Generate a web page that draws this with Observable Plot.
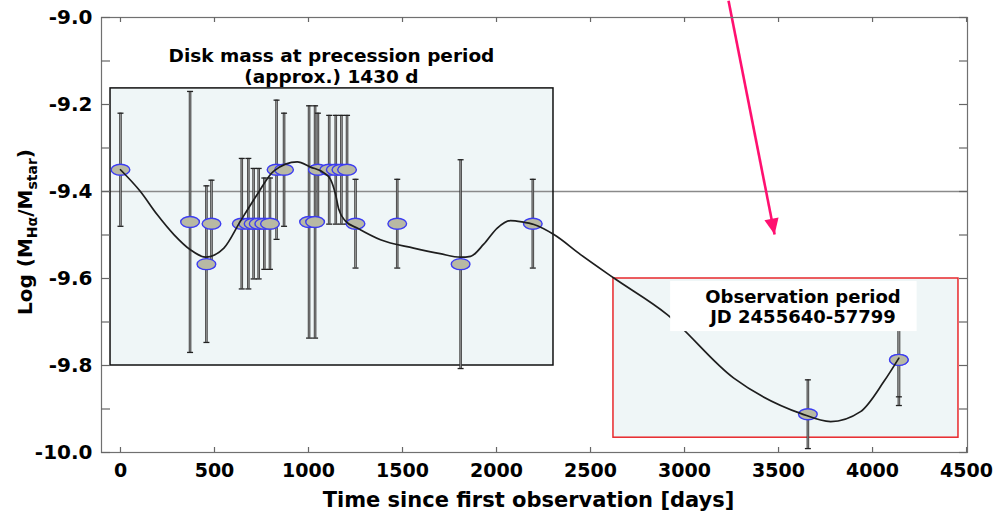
<!DOCTYPE html>
<html><head><meta charset="utf-8">
<script src="https://cdn.jsdelivr.net/npm/d3@7"></script>
<script src="https://cdn.jsdelivr.net/npm/@observablehq/plot@0.6"></script>
<style>body{margin:0;background:#fff;}</style>
</head><body><div id="chart"></div>
<script>
// ---- observations (days since first observation, log mass, error) ----
const obsDays = [0, 370, 457, 484, 645, 680, 708, 735, 765, 795, 830, 870, 1003, 1035, 1050, 1110, 1145, 1175, 1205, 1250, 1472, 1809, 2193, 3656, 4140, 4140];
const obsLog  = [-9.35, -9.47, -9.567, -9.474, -9.474, -9.474, -9.474, -9.474, -9.474, -9.474, -9.35, -9.35, -9.47, -9.47, -9.35, -9.35, -9.35, -9.35, -9.35, -9.474, -9.474, -9.567, -9.474, -9.912, -9.787, -9.787];
const obsErr  = [0.13, 0.30, 0.18, 0.10, 0.15, 0.15, 0.127, 0.127, 0.105, 0.105, 0.16, 0.13, 0.267, 0.267, 0.13, 0.125, 0.125, 0.125, 0.125, 0.102, 0.102, 0.24, 0.102, 0.079, 0.085, 0.105];

// ---- smooth fitted curve ----
const curveDays = [0, 106, 195, 284, 372, 452, 550, 638, 727, 815, 940, 1011, 1082, 1117, 1144, 1161, 1197, 1259, 1383, 1559, 1700, 1809, 1862, 1932, 2004, 2074, 2136, 2199, 2305, 2447, 2624, 2908, 3262, 3617, 3777, 3936, 4060, 4140];
const curveLog  = [-9.35, -9.40, -9.453, -9.499, -9.534, -9.551, -9.530, -9.468, -9.407, -9.353, -9.332, -9.344, -9.357, -9.372, -9.407, -9.441, -9.468, -9.484, -9.511, -9.530, -9.543, -9.551, -9.549, -9.521, -9.484, -9.467, -9.470, -9.476, -9.499, -9.545, -9.599, -9.683, -9.829, -9.910, -9.929, -9.906, -9.837, -9.783];

// ---- ticks ----
const xTicks = [0, 500, 1000, 1500, 2000, 2500, 3000, 3500, 4000, 4500];
const yLabelTicks = [-10.0, -9.8, -9.6, -9.4, -9.2, -9.0];
const yMinorTicks = [-10.0, -9.9, -9.8, -9.7, -9.6, -9.5, -9.4, -9.3, -9.2, -9.1, -9.0];
const refLevel = [-9.4];

// ---- annotation boxes ----
const boxX1 = [-53, 2622];
const boxX2 = [2303, 4457];
const boxY1 = [-9.8, -9.966];
const boxY2 = [-9.163, -9.600];
const labelBoxX1 = [2926], labelBoxX2 = [4237], labelBoxY1 = [-9.722], labelBoxY2 = [-9.607];

const annTexts = ["Disk mass at precession period\n(approx.) 1430 d", "Observation period\nJD 2455640-57799"];
const annX = [1122, 3630];
const annY = [-9.111, -9.665];

const arrowX1 = [3234], arrowY1 = [-8.9615], arrowX2 = [3479], arrowY2 = [-9.499];

const xTitle = "Time since first observation [days]";
const yTitle = "Log (MHα/Mstar)";

const obs = obsDays.map((d, i) => ({x: d, y: obsLog[i], e: obsErr[i]}));
const curve = curveDays.map((d, i) => ({x: d, y: curveLog[i]}));
const boxes = boxX1.map((d, i) => ({x1: d, x2: boxX2[i], y1: boxY1[i], y2: boxY2[i], i}));
const labelBox = labelBoxX1.map((d, i) => ({x1: d, x2: labelBoxX2[i], y1: labelBoxY1[i], y2: labelBoxY2[i]}));
const anns = annTexts.map((t, i) => ({t, x: annX[i], y: annY[i], i}));
const arrows = arrowX1.map((d, i) => ({x1: d, y1: arrowY1[i], x2: arrowX2[i], y2: arrowY2[i]}));

// custom symbols
const K = 0.5523;
const ellipseSymbol = {draw(ctx, size) {
  const r = Math.sqrt(size / Math.PI), rx = r * 1.7, ry = r;
  ctx.moveTo(rx, 0);
  ctx.bezierCurveTo(rx, ry * K, rx * K, ry, 0, ry);
  ctx.bezierCurveTo(-rx * K, ry, -rx, ry * K, -rx, 0);
  ctx.bezierCurveTo(-rx, -ry * K, -rx * K, -ry, 0, -ry);
  ctx.bezierCurveTo(rx * K, -ry, rx, -ry * K, rx, 0);
  ctx.closePath();
}};
const capSymbol = {draw(ctx, size) {
  const r = Math.sqrt(size / Math.PI);
  ctx.moveTo(-r, 0); ctx.lineTo(r, 0);
}};
const headSymbol = {draw(ctx, size) {
  const r = Math.sqrt(size / Math.PI);
  ctx.moveTo(0, 0); ctx.lineTo(-r * 0.45, r); ctx.lineTo(r * 0.45, r); ctx.closePath();
}};

const W = 996, H = 512, mL = 101, mR = 29, mT = 17, mB = 60;
const pw = W - mL - mR, ph = H - mT - mB;

const plot = Plot.plot({
  width: W, height: H,
  marginLeft: mL, marginRight: mR, marginTop: mT, marginBottom: mB,
  x: {domain: [-101, 4505]},
  y: {domain: [-10, -9]},
  style: {fontFamily: "'DejaVu Sans', sans-serif", fontWeight: "bold", fontSize: "19px", color: "#000", background: "#fff"},
  marks: [
    Plot.rect(boxes, {x1: "x1", x2: "x2", y1: "y1", y2: "y2", fill: "#eff6f7"}),
    Plot.ruleY(refLevel, {stroke: "#8a8a8a", strokeWidth: 1.3}),
    Plot.rect(boxes, {x1: "x1", x2: "x2", y1: "y1", y2: "y2", fill: "none", stroke: d => d.i ? "#e8282c" : "#111", strokeWidth: 1.5}),
    // error bars
    Plot.ruleX(obs, {x: "x", y1: d => d.y - d.e, y2: d => d.y + d.e, stroke: "#333", strokeWidth: 2.6, strokeOpacity: 0.95}),
    Plot.ruleX(obs, {x: "x", y1: d => d.y - d.e, y2: d => d.y + d.e, stroke: "#9a9a9a", strokeWidth: 0.9}),
    Plot.dot(obs, {x: "x", y: d => d.y - d.e, symbol: capSymbol, r: 3, stroke: "#222", strokeWidth: 1.3, fill: "none"}),
    Plot.dot(obs, {x: "x", y: d => d.y + d.e, symbol: capSymbol, r: 3, stroke: "#222", strokeWidth: 1.3, fill: "none"}),
    // points
    Plot.dot(obs, {x: "x", y: "y", symbol: ellipseSymbol, r: 5.5, fill: "#b8b9a4", stroke: "#3c3cf2", strokeWidth: 1.4}),
    // fitted curve
    Plot.line(curve, {x: "x", y: "y", curve: "monotone-x", stroke: "#1e1e1e", strokeWidth: 1.7}),
    // label background
    Plot.rect(labelBox, {x1: "x1", x2: "x2", y1: "y1", y2: "y2", fill: "#fff"}),
    Plot.text(anns, {x: "x", y: "y", text: "t", lineAnchor: "middle", textAnchor: "middle", fontSize: d => d.i ? 18 : 18.5, lineHeight: 1.12, fill: "#000"}),
    // arrow
    Plot.link(arrows, {x1: "x1", y1: "y1", x2: "x2", y2: "y2", stroke: "#ff1070", strokeWidth: 2.6, clip: false}),
    Plot.dot(arrows, {x: "x2", y: "y2", symbol: headSymbol, r: 16, fill: "#ff1070", stroke: "none", rotate: 168.8, clip: false}),
    // frame & ticks
    Plot.frame({stroke: "#707070", strokeWidth: 1.2}),
    Plot.tickY(yMinorTicks, {y: d => d, insetRight: pw - 9, stroke: "#666", strokeWidth: 1.2}),
    Plot.tickY(yMinorTicks, {y: d => d, insetLeft: pw - 8, stroke: "#666", strokeWidth: 1.2}),
    Plot.tickX(xTicks, {x: d => d, insetBottom: ph - 5, stroke: "#666", strokeWidth: 1.2}),
    Plot.tickX(xTicks, {x: d => d, insetTop: ph - 5, stroke: "#666", strokeWidth: 1.2}),
    Plot.axisY(yLabelTicks, {tickSize: 0, tickPadding: 9, tickFormat: d => d.toFixed(1), fontSize: 20, label: null}),
    Plot.axisX(xTicks, {tickSize: 0, tickPadding: 11, tickFormat: d => String(d), fontSize: 19, label: null}),
    // titles
    Plot.text([xTitle], {x: 2170, frameAnchor: "bottom", dy: 48, text: d => d, fontSize: 21, lineAnchor: "middle", textAnchor: "middle"}),
    Plot.text([yTitle], {frameAnchor: "left", dx: -76, dy: -3, rotate: -90, text: d => d, fontSize: 20, lineAnchor: "middle", textAnchor: "middle"})
  ]
});

// rich subscripts for the y title
d3.select(plot).selectAll("text").filter(function() { return this.textContent === yTitle; })
  .html('Log (M<tspan dy="5" font-size="14">Hα</tspan><tspan dy="-5">/M</tspan><tspan dy="5" font-size="14">star</tspan><tspan dy="-5">)</tspan>');

document.getElementById("chart").appendChild(plot);
</script></body></html>
